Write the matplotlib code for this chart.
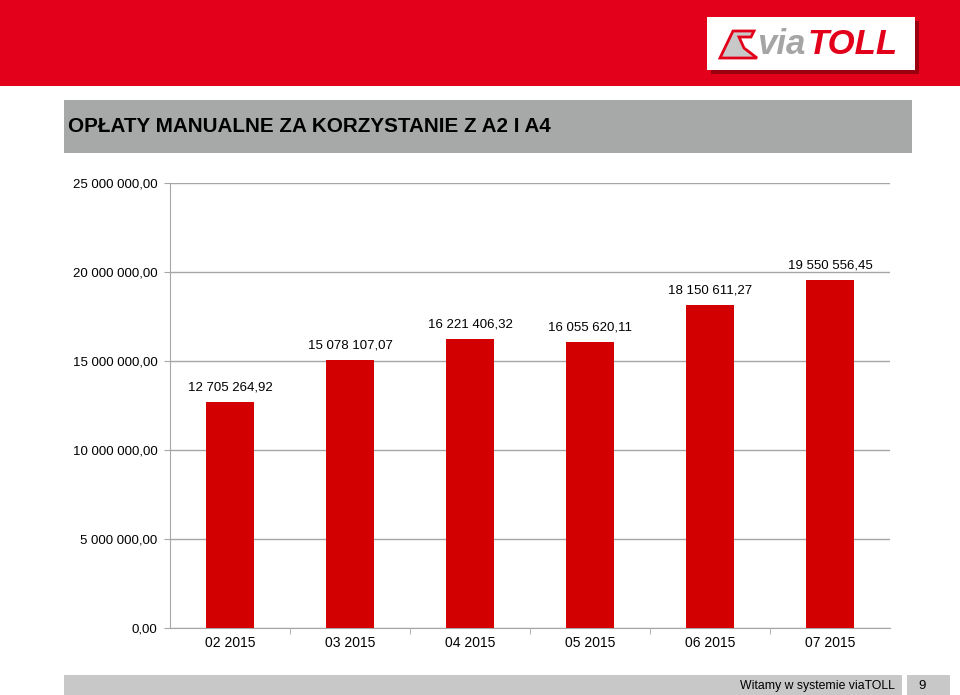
import matplotlib
matplotlib.use('Agg')
import matplotlib.pyplot as plt
from matplotlib.patches import Rectangle, Polygon

plt.rcParams['font.family'] = ['Liberation Sans', 'DejaVu Sans']

months = ['02 2015', '03 2015', '04 2015', '05 2015', '06 2015', '07 2015']
fees = [12705264.92, 15078107.07, 16221406.32, 16055620.11, 18150611.27, 19550556.45]
yticks = [0, 5000000, 10000000, 15000000, 20000000, 25000000]


def pl_number(v):
    s = '{:,.2f}'.format(v)
    return s.replace(',', ' ').replace('.', ',')


fig = plt.figure(figsize=(9.6, 6.95), dpi=100)
W, H = 960, 695


def box(x, y, w, h, color, **kw):
    # pixel coords from top-left
    r = Rectangle((x / W, 1 - (y + h) / H), w / W, h / H, transform=fig.transFigure,
                  facecolor=color, edgecolor='none', **kw)
    fig.add_artist(r)
    return r


def px(x, y):
    return (x / W, 1 - y / H)


# red banner + logo
box(0, 0, 960, 86, '#e3001b')
box(711, 21, 208, 53, '#9a0010', zorder=1)
box(707, 17, 208, 53, 'white', zorder=2)
road = Polygon([px(720, 58), px(733, 31), px(754, 31), px(751, 37), px(739, 37),
                px(744, 48), px(757, 58)], closed=True, transform=fig.transFigure,
               facecolor='#c8c8c8', edgecolor='#e3001b', lw=2, zorder=3)
fig.add_artist(road)
fig.text(757 / W, 1 - 45 / H, 'via', fontsize=25, fontweight='bold', style='italic',
         color='#a5a5a5', va='center', ha='left', zorder=4)
fig.text(808 / W, 1 - 45 / H, 'TOLL', fontsize=25, fontweight='bold', style='italic',
         color='#e3001b', va='center', ha='left', zorder=4)

# title bar
box(64, 100, 848, 53, '#a7a9a9')
fig.text(68 / W, 1 - 127 / H, 'OPŁATY MANUALNE ZA KORZYSTANIE Z A2 I A4', fontsize=14.9,
         fontweight='bold', color='black', va='center', ha='left')

# footer
box(64, 675, 838, 20, '#c8c8c8')
box(907, 675, 43, 20, '#c8c8c8')
fig.text(895 / W, 1 - 686 / H, 'Witamy w systemie viaTOLL', fontsize=8.8, va='center',
         ha='right')
fig.text(918 / W, 1 - 686 / H, '9', fontsize=9.5, va='center', ha='left')

# chart
ax = fig.add_axes([170 / W, 67 / H, 720 / W, 445 / H])
x = range(len(months))
bars = ax.bar(x, fees, width=0.4, color='#d20000', zorder=3)
ax.set_xlim(-0.5, len(months) - 0.5)
ax.set_ylim(0, 25000000)
ax.set_yticks(yticks)
ax.set_yticklabels([pl_number(v) for v in yticks])
ax.set_xticks(list(x))
ax.set_xticklabels(months)
ax.set_xticks([i + 0.5 for i in range(len(months) - 1)], minor=True)
ax.grid(True, axis='y', color='#a6a6a6', lw=1, zorder=0)
for s in ['top', 'right']:
    ax.spines[s].set_visible(False)
ax.spines['left'].set_color('#a6a6a6')
ax.spines['bottom'].set_color('#a6a6a6')
ax.tick_params(axis='y', length=4, color='#a6a6a6', labelsize=9.5, pad=5)
ax.tick_params(axis='x', which='major', length=0, labelsize=10, pad=6)
ax.tick_params(axis='x', which='minor', length=4, color='#a6a6a6', direction='out')
for b, v in zip(bars, fees):
    ax.annotate(pl_number(v), (b.get_x() + b.get_width() / 2, v), xytext=(0, 6),
                textcoords='offset points', ha='center', va='bottom', fontsize=9.5)

plt.savefig('out.png', dpi=100)
